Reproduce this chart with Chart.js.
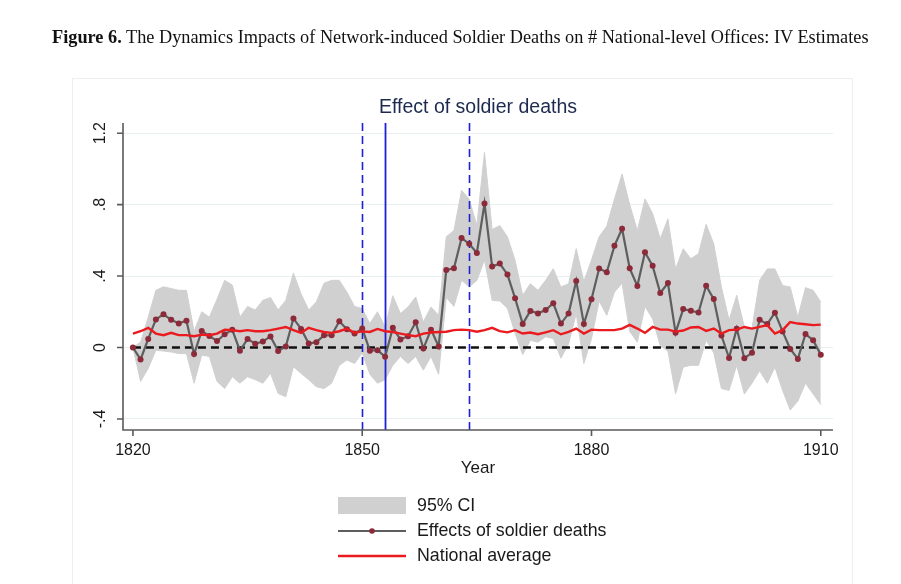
<!DOCTYPE html>
<html>
<head>
<meta charset="utf-8">
<script src="https://cdn.jsdelivr.net/npm/chart.js@4.4.1/dist/chart.umd.min.js"></script>
<style>
  html, body { margin: 0; padding: 0; background: #fff; }
  #wrap { position: relative; width: 901px; height: 584px; overflow: hidden; }
  #caption {
    position: absolute; left: 52px; top: 27px; white-space: nowrap;
    font-family: "Liberation Serif", "DejaVu Serif", serif; font-size: 18.3px; color: #111;
  }
  #caption b { font-weight: bold; }
  #chart { position: absolute; left: 0; top: 0; }
</style>
</head>
<body>
<div id="wrap">
  <canvas id="chart" width="901" height="584"></canvas>
  <div id="caption"><b>Figure 6.</b> The Dynamics Impacts of Network-induced Soldier Deaths on # National-level Offices: IV Estimates</div>
</div>
<script>
// ===== data =====
const years = [
  1820,1821,1822,1823,1824,1825,1826,1827,1828,1829,
  1830,1831,1832,1833,1834,1835,1836,1837,1838,1839,
  1840,1841,1842,1843,1844,1845,1846,1847,1848,1849,
  1850,1851,1852,1853,1854,1855,1856,1857,1858,1859,
  1860,1861,1862,1863,1864,1865,1866,1867,1868,1869,
  1870,1871,1872,1873,1874,1875,1876,1877,1878,1879,
  1880,1881,1882,1883,1884,1885,1886,1887,1888,1889,
  1890,1891,1892,1893,1894,1895,1896,1897,1898,1899,
  1900,1901,1902,1903,1904,1905,1906,1907,1908,1909,
  1910
];

const effect = [
  0.000,-0.067,0.048,0.157,0.186,0.155,0.135,0.150,-0.037,0.093,
  0.065,0.036,0.074,0.099,-0.018,0.048,0.021,0.033,0.062,-0.020,
  0.006,0.163,0.104,0.022,0.030,0.068,0.069,0.147,0.102,0.078,
  0.106,-0.018,-0.015,-0.052,0.110,0.045,0.063,0.141,-0.006,0.100,
  0.006,0.434,0.443,0.613,0.581,0.529,0.806,0.453,0.470,0.409,
  0.276,0.132,0.205,0.191,0.210,0.248,0.134,0.190,0.373,0.132,
  0.270,0.442,0.421,0.569,0.665,0.443,0.344,0.533,0.457,0.305,
  0.361,0.083,0.215,0.206,0.196,0.346,0.271,0.067,-0.059,0.105,
  -0.060,-0.030,0.155,0.131,0.195,0.090,-0.008,-0.064,0.075,0.041,
  -0.040
];

const ciHigh = [
  0.000,0.030,0.170,0.320,0.340,0.330,0.320,0.320,0.090,0.200,
  0.170,0.270,0.376,0.350,0.170,0.230,0.210,0.264,0.280,0.210,
  0.264,0.417,0.300,0.210,0.255,0.360,0.376,0.376,0.310,0.230,
  0.218,0.134,0.200,0.115,0.290,0.190,0.227,0.283,0.143,0.227,
  0.180,0.620,0.655,0.880,0.830,0.683,1.093,0.660,0.683,0.620,
  0.488,0.292,0.357,0.320,0.376,0.441,0.339,0.357,0.553,0.370,
  0.490,0.620,0.680,0.830,0.972,0.800,0.655,0.832,0.750,0.609,
  0.720,0.440,0.553,0.497,0.525,0.690,0.580,0.339,0.153,0.292,
  0.115,0.106,0.376,0.440,0.440,0.347,0.339,0.170,0.335,0.320,
  0.255
];

const ciLow = [
  0.000,-0.190,-0.117,-0.015,-0.020,-0.025,-0.034,-0.034,-0.200,-0.043,
  -0.050,-0.190,-0.230,-0.164,-0.200,-0.164,-0.180,-0.200,-0.145,-0.257,
  -0.276,-0.108,-0.145,-0.180,-0.220,-0.230,-0.200,-0.100,-0.070,-0.090,
  -0.030,-0.150,-0.200,-0.180,-0.100,-0.050,-0.090,-0.050,-0.127,-0.050,
  -0.150,0.280,0.230,0.376,0.340,0.375,0.490,0.264,0.260,0.220,
  0.080,-0.040,0.040,0.030,0.060,0.050,-0.060,0.020,0.190,-0.090,
  0.050,0.260,0.180,0.310,0.360,0.090,0.030,0.230,0.160,0.010,
  -0.020,-0.260,-0.110,-0.100,-0.100,0.040,-0.030,-0.230,-0.240,-0.100,
  -0.260,-0.200,-0.130,-0.200,-0.110,-0.240,-0.350,-0.300,-0.200,-0.260,
  -0.320
];

const nationalAvg = [
  0.078,0.091,0.110,0.078,0.069,0.082,0.069,0.069,0.063,0.072,
  0.069,0.078,0.100,0.097,0.091,0.097,0.091,0.091,0.097,0.106,
  0.115,0.097,0.082,0.110,0.097,0.087,0.082,0.091,0.106,0.082,
  0.090,0.087,0.104,0.091,0.087,0.078,0.069,0.063,0.078,0.084,
  0.087,0.088,0.097,0.100,0.097,0.088,0.097,0.110,0.092,0.085,
  0.097,0.078,0.084,0.074,0.085,0.097,0.074,0.088,0.106,0.078,
  0.100,0.097,0.097,0.097,0.106,0.127,0.106,0.082,0.115,0.100,
  0.100,0.089,0.095,0.112,0.115,0.093,0.106,0.078,0.097,0.100,
  0.115,0.106,0.115,0.125,0.078,0.097,0.143,0.134,0.130,0.125,
  0.128
];

// reference lines
const zeroLineYears = [1820, 1910];
const zeroLineValues = [0, 0];
const refYears = [1850, 1853, 1864];
const refDashed = [true, false, true];

// axis ticks
const xTicks = [1820, 1850, 1880, 1910];
const xTickLabels = ['1820', '1850', '1880', '1910'];
const yTicks = [-0.4, 0, 0.4, 0.8, 1.2];
const yTickLabels = ['-.4', '0', '.4', '.8', '1.2'];

// ===== helpers =====
const pts = (vals, xs = years) => vals.map((v, i) => ({ x: xs[i], y: v }));
const SANS = '"Liberation Sans", Arial, sans-serif';
const BAND = '#d0d0d0';
const GRAYLINE = '#5e5e5e';
const MARKER = '#8c2a3a';
const RED = '#ea1a1f';
const BLUE = '#1f1fd8';

// ===== text, ticks, reference lines and legend =====
const decor = {
  id: 'decor',
  afterDatasetDraw(chart, args) {
    // blue vertical lines go on top of the CI band, below the curves
    if (args.index !== 3) return;
    const { ctx, chartArea: a, scales: { x } } = chart;
    ctx.save();
    ctx.strokeStyle = BLUE;
    refYears.forEach((yr, i) => {
      const px = Math.round(x.getPixelForValue(yr)) + 0.5;
      ctx.lineWidth = refDashed[i] ? 1.6 : 1.8;
      ctx.setLineDash(refDashed[i] ? [8, 5] : []);
      ctx.beginPath();
      ctx.moveTo(px, a.top);
      ctx.lineTo(px, a.bottom);
      ctx.stroke();
    });
    ctx.restore();
  },
  afterDraw(chart) {
    const { ctx, chartArea: a, scales: { x, y } } = chart;
    ctx.save();

    // faint graph-region box
    ctx.strokeStyle = '#eeeeee';
    ctx.lineWidth = 1;
    ctx.strokeRect(72.5, 78.5, 780, 520);

    // axis lines + tick marks
    ctx.strokeStyle = '#5a5a5a';
    ctx.lineWidth = 1.6;
    ctx.beginPath();
    ctx.moveTo(a.left, a.top); ctx.lineTo(a.left, a.bottom); ctx.lineTo(a.right, a.bottom);
    yTicks.forEach(v => { const py = y.getPixelForValue(v); ctx.moveTo(a.left - 6, py); ctx.lineTo(a.left, py); });
    xTicks.forEach(v => { const px = x.getPixelForValue(v); ctx.moveTo(px, a.bottom); ctx.lineTo(px, a.bottom + 6); });
    ctx.stroke();

    // tick labels
    ctx.fillStyle = '#1a1a1a';
    ctx.font = '16px ' + SANS;
    ctx.textAlign = 'center';
    ctx.textBaseline = 'middle';
    yTicks.forEach((v, i) => {
      ctx.save();
      ctx.translate(101, y.getPixelForValue(v));
      ctx.rotate(-Math.PI / 2);
      ctx.fillText(yTickLabels[i], 0, 0);
      ctx.restore();
    });
    xTicks.forEach((v, i) => ctx.fillText(xTickLabels[i], x.getPixelForValue(v), 451));
    ctx.font = '17px ' + SANS;
    ctx.fillText('Year', 478, 468);

    // plot title
    ctx.fillStyle = '#1c2a4e';
    ctx.font = '19.5px ' + SANS;
    ctx.fillText('Effect of soldier deaths', 478, 108);

    // legend
    const lx0 = 338, lx1 = 406, tx = 417;
    ctx.fillStyle = BAND;
    ctx.fillRect(lx0, 497, lx1 - lx0, 17);
    ctx.lineWidth = 2.2;
    ctx.strokeStyle = GRAYLINE;
    ctx.beginPath(); ctx.moveTo(lx0, 531); ctx.lineTo(lx1, 531); ctx.stroke();
    ctx.fillStyle = MARKER;
    ctx.beginPath(); ctx.arc((lx0 + lx1) / 2, 531, 2.8, 0, Math.PI * 2); ctx.fill();
    ctx.strokeStyle = RED;
    ctx.lineWidth = 2.4;
    ctx.beginPath(); ctx.moveTo(lx0, 556); ctx.lineTo(lx1, 556); ctx.stroke();
    ctx.fillStyle = '#1a1a1a';
    ctx.font = '17.8px ' + SANS;
    ctx.textAlign = 'left';
    ctx.fillText('95% CI', tx, 506);
    ctx.fillText('Effects of soldier deaths', tx, 531);
    ctx.fillText('National average', tx, 556);
    ctx.restore();
  }
};

// ===== chart =====
new Chart(document.getElementById('chart'), {
  type: 'line',
  data: {
    datasets: [
      { // 0: national average (drawn last, on top)
        label: 'National average', data: pts(nationalAvg),
        borderColor: RED, borderWidth: 2.4, pointRadius: 0, tension: 0
      },
      { // 1: point estimates
        label: 'Effects of soldier deaths', data: pts(effect),
        borderColor: GRAYLINE, borderWidth: 2.2, tension: 0,
        pointRadius: 3, pointBackgroundColor: MARKER, pointBorderWidth: 0
      },
      { // 2: zero line
        label: 'zero', data: pts(zeroLineValues, zeroLineYears),
        borderColor: '#111', borderWidth: 2.4, borderDash: [8, 5], pointRadius: 0
      },
      { // 3: CI upper, filled down to lower
        label: '95% CI', data: pts(ciHigh),
        borderColor: BAND, borderWidth: 1, backgroundColor: BAND,
        fill: '+1', pointRadius: 0, tension: 0
      },
      { // 4: CI lower
        label: 'ci low', data: pts(ciLow),
        borderColor: BAND, borderWidth: 1, pointRadius: 0, fill: false, tension: 0
      }
    ]
  },
  options: {
    responsive: false,
    animation: false,
    layout: { padding: { left: 123, top: 123, right: 68, bottom: 154 } },
    plugins: { legend: { display: false }, tooltip: { enabled: false } },
    scales: {
      x: {
        type: 'linear', min: 1818.7, max: 1911.6,
        grid: { display: false, drawTicks: false },
        border: { display: false },
        ticks: { display: false }
      },
      y: {
        type: 'linear', min: -0.462, max: 1.257,
        afterBuildTicks: axis => { axis.ticks = yTicks.map(v => ({ value: v })); },
        grid: { color: '#e8eff1', lineWidth: 1, drawTicks: false },
        border: { display: false },
        ticks: { display: false }
      }
    }
  },
  plugins: [decor]
});
</script>
</body>
</html>
